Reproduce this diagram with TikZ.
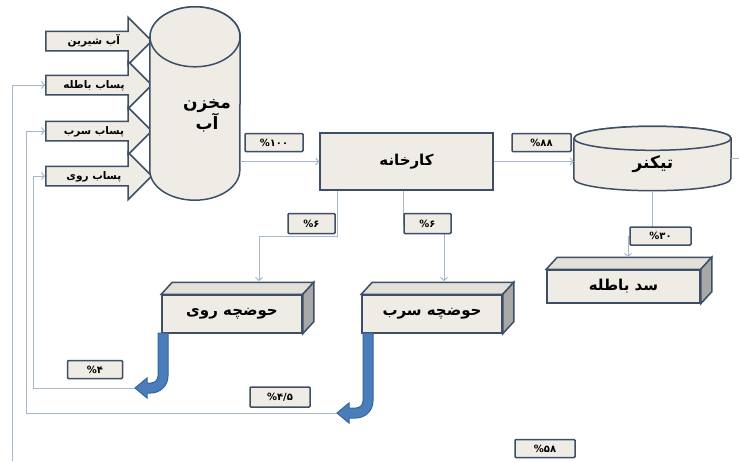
\documentclass[tikz,border=0pt]{standalone}
\usepackage{fontspec}
\newfontfamily\fa[Script=Arabic]{DejaVu Sans}
\TeXXeTstate=1
\usetikzlibrary{shapes.arrows,arrows.meta,calc}
\definecolor{boxfill}{HTML}{EEECE4}
\definecolor{boxline}{HTML}{3C4F66}
\definecolor{flowline}{HTML}{A7B7C7}
\definecolor{bluefill}{HTML}{4A7EBB}
\definecolor{blueline}{HTML}{3464A0}
\definecolor{topface}{HTML}{E2E0D8}
\definecolor{sideface}{HTML}{A8A8A8}
\newcommand{\fat}[1]{{\fa\bfseries\beginR #1\endR}}
% blue bent arrow: shaft x, axis y, tip x
\newcommand{\bentflow}[3]{%
  \path[draw=blueline,fill=bluefill,line width=1pt]
    ({#1-5},333) -- ({#1-5},{#2-12}) arc[start angle=0,end angle=-90,radius=7pt]
    -- ({#3+12},{#2-5}) -- ({#3+12},{#2-10}) -- (#3,#2) -- ({#3+12},{#2+10})
    -- ({#3+12},{#2+5}) -- ({#1-12},{#2+5}) arc[start angle=-90,end angle=0,radius=17pt]
    -- ({#1+5},333) -- cycle;}
% top and side faces of a slab
\newcommand{\slabfaces}[1]{%
  \path[box,fill=topface] (#1.north west) -- ++(11,-12) -- ([shift={(11,-12)}]#1.north east) -- (#1.north east) -- cycle;
  \path[box,fill=sideface] (#1.north east) -- ++(11,-12) -- ([shift={(11,-12)}]#1.south east) -- (#1.south east) -- cycle;}

\begin{document}
\begin{tikzpicture}[x=1pt,y=-1pt,
  box/.style={draw=boxline,fill=boxfill,line width=1.5pt,inner sep=0pt},
  pct/.style={box,minimum height=18pt,rounded corners=1pt,font=\fa\bfseries\fontsize{10}{11}\selectfont},
  flow/.style={draw=flowline,line width=1pt,-{Straight Barb[length=3pt,width=7pt]}},
  inarrow/.style={single arrow,draw=boxline,fill=boxfill,line width=1.5pt,
    single arrow head extend=14pt,minimum height=106pt,inner ysep=3pt,
    text height=9pt,text depth=3pt,anchor=tail,font=\fontsize{10.5}{11}\selectfont},
  unitname/.style={font=\fontsize{15}{17}\selectfont}]
\useasboundingbox[fill=white] (0,0) rectangle (739,461);

% inflows to the tank
\foreach \y/\t/\n in {41/آب شیرین/fresh,85/پساب باطله/tail,131/پساب سرب/lead,176/پساب روی/zinc}
  \node[inarrow] (in\n) at (45,\y) {\fat{\t}};

% water tank
\node[minimum width=90pt,minimum height=193pt,inner sep=0pt] (tank) at (195,103.5) {};
\path[box] ([yshift=-30pt]tank.north west) -- ([yshift=30pt]tank.south west)
  arc[start angle=180,end angle=360,x radius=45pt,y radius=30pt]
  -- ([yshift=-30pt]tank.north east) arc[start angle=0,end angle=180,x radius=45pt,y radius=30pt] -- cycle;
\path[box] ([yshift=-30pt]tank.north) ellipse [x radius=45pt,y radius=30pt];
\node[font=\fontsize{17}{21}\selectfont,align=center] (tanktext) at (207,116) {\fat{مخزن}\\\fat{آب}};

% plant
\node[box,unitname,minimum width=173pt,minimum height=57pt] (plant) at (406.5,161.5) {\fat{کارخانه}};

% thickener
\node[minimum width=157pt,minimum height=64pt,inner sep=0pt] (thick) at (652.5,158.5) {};
\path[box] ([yshift=-12pt]thick.north west) -- ([yshift=12pt]thick.south west)
  arc[start angle=180,end angle=360,x radius=78.5pt,y radius=12pt]
  -- ([yshift=-12pt]thick.north east) arc[start angle=0,end angle=180,x radius=78.5pt,y radius=12pt] -- cycle;
\path[box] ([yshift=-12pt]thick.north) ellipse [x radius=78.5pt,y radius=12pt];
\node[font=\fontsize{17}{19}\selectfont] (thicktext) at (653,164) {\fat{تیکنر}};

% ponds and tailings dam
\node[box,unitname,minimum width=140pt,minimum height=38pt] (zpond) at (232,314) {\fat{حوضچه روی}};
\slabfaces{zpond}
\node[box,unitname,minimum width=140pt,minimum height=38pt] (lpond) at (432,314) {\fat{حوضچه سرب}};
\slabfaces{lpond}
\node[box,unitname,minimum width=153pt,minimum height=33pt] (dam) at (623.5,286.5) {\fat{سد باطله}};
\slabfaces{dam}

% connectors
\coordinate (zin) at (259,281);
\coordinate (lin) at (444,281);
\coordinate (damin) at (628,257);
\coordinate (over) at (739,158.5);
\coordinate (ztip) at (135,388);
\coordinate (ltip) at (337,413);
\coordinate (bottomL) at (12,461);
\draw[flow] (tank.east |- plant.west) -- (plant.west);
\draw[flow] (plant.east) -- (plant.east -| thick.west);
\draw[flow,-] (thick.east) -- (over);
\draw[flow] (thick.south) -- ++(0,46) -| (damin);
\draw[flow] ([xshift=-69.5pt]plant.south) -- ++(0,46) -| (zin);
\draw[flow] ([xshift=-3.5pt]plant.south) -- ++(0,34) -| (lin);
\draw[flow] (ztip) -| ([xshift=-12pt]inzinc.tail) -- (inzinc.tail);
\draw[flow] (ltip) -| ([xshift=-19pt]inlead.tail) -- (inlead.tail);
\draw[flow] (bottomL) |- (intail.tail);
\bentflow{163}{388}{135}
\bentflow{368}{413}{337}

% percentages
\node[pct,minimum width=58pt] (p100) at (274,142.5) {\%۱۰۰};
\node[pct,minimum width=59pt] (p88) at (541.5,142.5) {\%۸۸};
\node[pct,minimum width=61pt] (p30) at (660.5,236) {\%۳۰};
\node[pct,minimum width=47pt,minimum height=20pt] (p6z) at (311.5,223.5) {\%۶};
\node[pct,minimum width=47pt,minimum height=20pt] (p6l) at (427.5,223.5) {\%۶};
\node[pct,minimum width=55pt] (p4) at (95,369.5) {\%۴};
\node[pct,minimum width=60pt,minimum height=20pt] (p45) at (280,397) {\%۴/۵};
\node[pct,minimum width=60pt] (p58) at (545,448.5) {\%۵۸};
\end{tikzpicture}
\end{document}
